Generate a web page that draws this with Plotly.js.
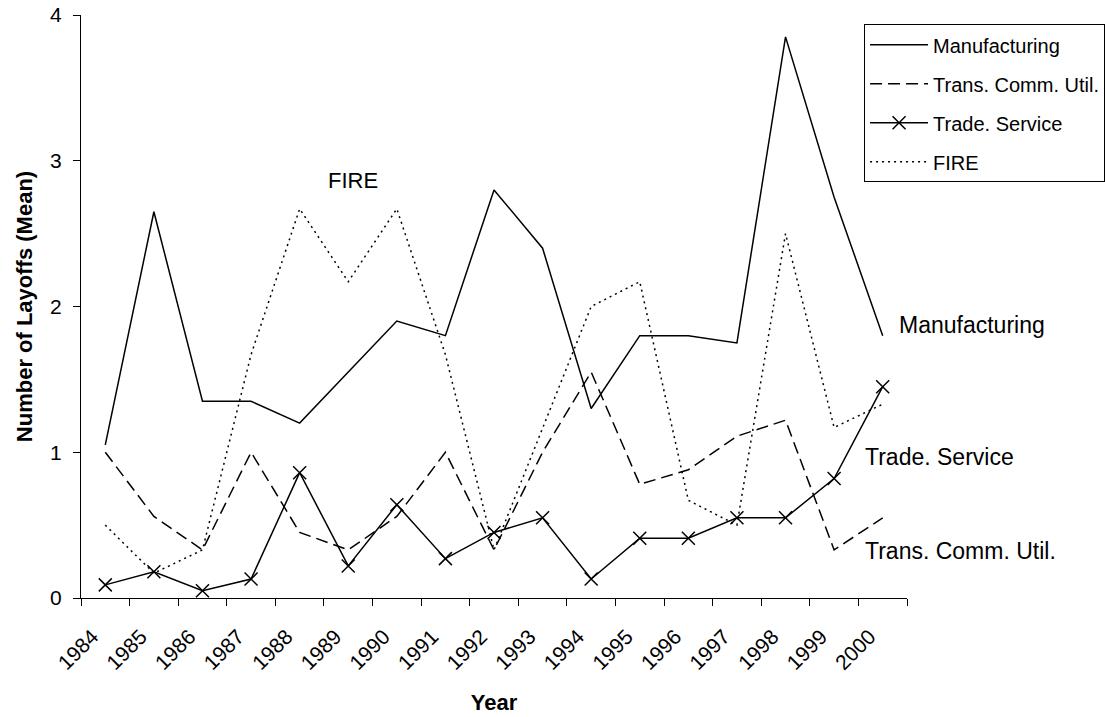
<!DOCTYPE html>
<html>
<head>
<meta charset="utf-8">
<script src="https://cdn.plot.ly/plotly-3.0.1.min.js"></script>
<style>html,body{margin:0;padding:0;background:#fff;}#chart{width:1105px;height:717px;}</style>
</head>
<body>
<div id="chart"></div>
<script>
const years = ["1984","1985","1986","1987","1988","1989","1990","1991","1992","1993","1994","1995","1996","1997","1998","1999","2000"];
const manufacturing = [1.05, 2.65, 1.35, 1.35, 1.2, 1.55, 1.9, 1.8, 2.8, 2.4, 1.3, 1.8, 1.8, 1.75, 3.85, 2.75, 1.8];
const transCommUtil = [1.0, 0.56, 0.33, 1.0, 0.45, 0.33, 0.56, 1.0, 0.33, 1.0, 1.55, 0.78, 0.88, 1.11, 1.22, 0.33, 0.55];
const tradeService = [0.09, 0.18, 0.05, 0.13, 0.86, 0.22, 0.64, 0.27, 0.45, 0.55, 0.13, 0.41, 0.41, 0.55, 0.55, 0.82, 1.45];
const fire = [0.5, 0.17, 0.33, 1.67, 2.67, 2.17, 2.67, 1.67, 0.33, 1.17, 2.0, 2.17, 0.67, 0.5, 2.5, 1.17, 1.33];
const yTicks = [0, 1, 2, 3, 4];

const FONT = "Arial, 'Liberation Sans', sans-serif";

const traces = [
  {x: years, y: manufacturing, name: "Manufacturing", mode: "lines", legendgroup: "a",
   line: {color: "#000", width: 1.5}},
  {x: years, y: transCommUtil, name: "Trans. Comm. Util.", mode: "lines", legendgroup: "b",
   line: {color: "#000", width: 1.5, dash: "12px,6px"}},
  {x: years, y: tradeService, name: "Trade. Service", mode: "lines+markers", legendgroup: "c",
   line: {color: "#000", width: 1.5},
   marker: {symbol: "x-thin", size: 13, color: "#000", line: {color: "#000", width: 1.5}}},
  {x: years, y: fire, name: "FIRE", mode: "lines", legendgroup: "d",
   line: {color: "#000", width: 1.5, dash: "2px,4px"}}
];

const layout = {
  width: 1105, height: 717,
  margin: {l: 81, r: 198.3, t: 15, b: 118.5, pad: 0, autoexpand: false},
  paper_bgcolor: "#fff", plot_bgcolor: "#fff",
  font: {family: FONT, size: 21, color: "#000"},
  showlegend: true,
  legend: {
    x: 0.948, y: 0.984, xanchor: "left", yanchor: "top",
    bordercolor: "#000", borderwidth: 1, bgcolor: "#fff",
    font: {family: FONT, size: 20, color: "#000"},
    tracegroupgap: 10, itemwidth: 58, traceorder: "grouped"
  },
  xaxis: {
    type: "category",
    range: [-0.5, 16.5],
    tickson: "boundaries",
    ticks: "outside", ticklen: 7, tickcolor: "#000", tickwidth: 1,
    tickangle: -45,
    ticklabelstandoff: 17,
    ticklabelshift: -13,
    showline: true, linecolor: "#000", linewidth: 1,
    showgrid: false, zeroline: false,
    tickfont: {family: FONT, size: 21, color: "#000"},
    title: {text: "<b>Year</b>", font: {family: FONT, size: 22, color: "#000"}, standoff: 21},
    fixedrange: true
  },
  yaxis: {
    range: [0, 4],
    tickvals: yTicks, ticktext: yTicks.map(String),
    ticks: "outside", ticklen: 7, tickcolor: "#000", tickwidth: 1,
    ticklabelstandoff: 7,
    showline: true, linecolor: "#000", linewidth: 1,
    showgrid: false, zeroline: false,
    tickfont: {family: FONT, size: 21, color: "#000"},
    title: {text: "<b>Number of Layoffs (Mean)</b>", font: {family: FONT, size: 22, color: "#000"}, standoff: 11},
    fixedrange: true
  },
  annotations: [
    {text: "FIRE", xref: "paper", yref: "paper", x: (353 - 81) / 825.7, y: (598.5 - 181) / 583.5,
     xanchor: "center", yanchor: "middle", showarrow: false, font: {family: FONT, size: 22, color: "#000"}},
    {text: "Manufacturing", xref: "paper", yref: "paper", x: (896.7 - 81) / 825.7, y: (598.5 - 325) / 583.5,
     xanchor: "left", yanchor: "middle", showarrow: false, font: {family: FONT, size: 23, color: "#000"}},
    {text: "Trade. Service", xref: "paper", yref: "paper", x: (862.7 - 81) / 825.7, y: (598.5 - 457) / 583.5,
     xanchor: "left", yanchor: "middle", showarrow: false, font: {family: FONT, size: 23, color: "#000"}},
    {text: "Trans. Comm. Util.", xref: "paper", yref: "paper", x: (862.7 - 81) / 825.7, y: (598.5 - 551) / 583.5,
     xanchor: "left", yanchor: "middle", showarrow: false, font: {family: FONT, size: 23, color: "#000"}}
  ]
};

Plotly.newPlot("chart", traces, layout, {displayModeBar: false, staticPlot: true});
</script>
</body>
</html>
